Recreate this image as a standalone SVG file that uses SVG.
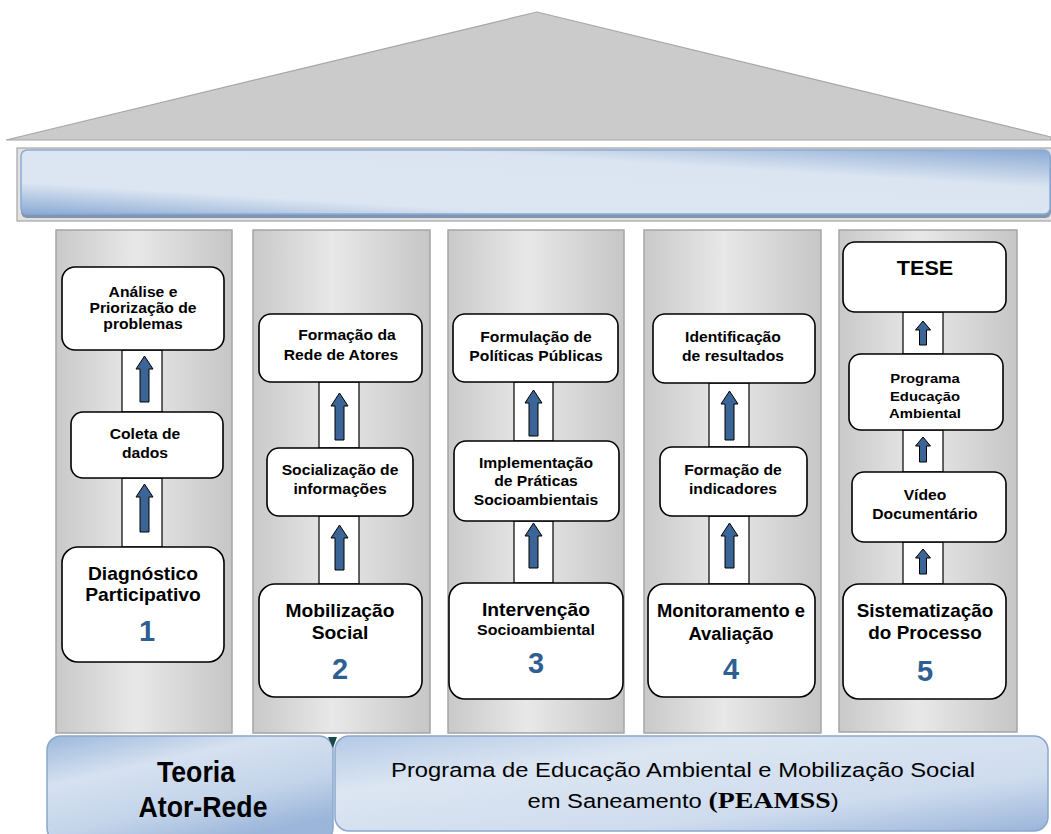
<svg xmlns="http://www.w3.org/2000/svg" width="1051" height="834" viewBox="0 0 1051 834">
<defs>
<linearGradient id="col" x1="0" y1="0" x2="1" y2="0">
<stop offset="0" stop-color="#c9c9c9"/><stop offset="0.45" stop-color="#e8e8e8"/><stop offset="1" stop-color="#c6c6c6"/>
</linearGradient>
<linearGradient id="banner" x1="0" y1="1" x2="1" y2="0">
<stop offset="0" stop-color="#8aa9d4"/><stop offset="0.25" stop-color="#dce6f2"/><stop offset="0.7" stop-color="#dbe5f1"/><stop offset="1" stop-color="#8aa9d4"/>
</linearGradient>
<linearGradient id="base" x1="0" y1="0" x2="0.6" y2="1">
<stop offset="0" stop-color="#9cb8dc"/><stop offset="0.35" stop-color="#d6e1f0"/><stop offset="0.7" stop-color="#c3d4ea"/><stop offset="1" stop-color="#9bb6da"/>
</linearGradient>
<linearGradient id="base2" x1="0" y1="0" x2="1" y2="1">
<stop offset="0" stop-color="#b4c9e6"/><stop offset="0.3" stop-color="#dce6f2"/><stop offset="0.7" stop-color="#cfdcee"/><stop offset="1" stop-color="#9ab5da"/>
</linearGradient>
</defs>
<style>
.col{fill:url(#col);stroke:#a5a5a5;stroke-width:1.5}
.box{fill:#fff;stroke:#000;stroke-width:1.6}
.link{fill:#fff;stroke:#000;stroke-width:1.2}
.arr{fill:#3a6596;stroke:#000;stroke-width:1}
text{font-family:"Liberation Sans",Arial,sans-serif;font-weight:bold;text-anchor:middle;fill:#000}
.s{font-size:14px}
.m{font-size:17.5px}
.n{font-size:29px;fill:#2f5f92}
</style>
<rect width="1051" height="834" fill="#fff"/>
<g id="roof">
<polygon points="6,140 537,12 1051,137 1051,140" fill="#cbcbcb" stroke="#a6a6a6" stroke-width="1.2"/>
</g>
<g id="banner-top">
<rect x="17" y="148" width="1040" height="73" fill="#e2e2e2" stroke="#a6a6a6" stroke-width="1.2"/>
<rect x="21" y="152" width="1030" height="66" rx="6" fill="#7f96b2"/>
<rect x="21" y="150" width="1029" height="64" rx="6" fill="url(#banner)" stroke="#8caad3" stroke-width="1.5"/>
</g>
<g id="columns">
<rect class="col" x="56" y="230" width="176" height="503"/>
<rect class="col" x="253" y="230" width="177" height="503"/>
<rect class="col" x="448" y="230" width="176" height="503"/>
<rect class="col" x="644" y="230" width="177" height="503"/>
<rect class="col" x="839" y="230" width="178" height="502"/>
</g>
<g id="connectors">
<rect class="link" x="122" y="350" width="40" height="62"/>
<rect class="link" x="122" y="478" width="40" height="69"/>
<rect class="link" x="319" y="382" width="40" height="66"/>
<rect class="link" x="319" y="516" width="40" height="68"/>
<rect class="link" x="514" y="382" width="39" height="59"/>
<rect class="link" x="514" y="521" width="39" height="62"/>
<rect class="link" x="709" y="383" width="40" height="64"/>
<rect class="link" x="709" y="516" width="40" height="68"/>
<rect class="link" x="903" y="312" width="40" height="42"/>
<rect class="link" x="903" y="430" width="40" height="42"/>
<rect class="link" x="903" y="542" width="40" height="42"/>
<path class="arr" d="M140,402 V369 H136 L144.5,356 L153,369 H149 V402 Z"/>
<path class="arr" d="M140,532 V497 H136 L144.5,484 L153,497 H149 V532 Z"/>
<path class="arr" d="M335,440 V406 H331 L339.5,393 L348,406 H344 V440 Z"/>
<path class="arr" d="M335,570 V538 H331 L339.5,525 L348,538 H344 V570 Z"/>
<path class="arr" d="M529,436 V403 H525 L533.5,390 L542,403 H538 V436 Z"/>
<path class="arr" d="M529,568 V536 H525 L533.5,523 L542,536 H538 V568 Z"/>
<path class="arr" d="M725,440 V404 H721 L729.5,391 L738,404 H734 V440 Z"/>
<path class="arr" d="M725,568 V536 H721 L729.5,523 L738,536 H734 V568 Z"/>
<path class="arr" d="M919.5,345 V330 H915.5 L923,321 L930.5,330 H926.5 V345 Z"/>
<path class="arr" d="M919.5,462 V446 H915.5 L923,437 L930.5,446 H926.5 V462 Z"/>
<path class="arr" d="M919.5,574 V558 H915.5 L923,549 L930.5,558 H926.5 V574 Z"/>
</g>
<g id="n1a"><rect class="box" x="62" y="267" width="162" height="83" rx="13"/>
<g transform="translate(143 0) scale(1.12 1)"><text class="s" x="0" y="297">Análise e</text><text class="s" x="0" y="313">Priorização de</text><text class="s" x="0" y="329">problemas</text></g></g>
<g id="n1b"><rect class="box" x="71" y="412" width="152" height="66" rx="12"/>
<g transform="translate(145 0) scale(1.12 1)"><text class="s" x="0" y="439">Coleta de</text><text class="s" x="0" y="458">dados</text></g></g>
<g id="n1c"><rect class="box" x="62" y="547" width="162" height="115" rx="16"/>
<g transform="translate(143 0) scale(1.1 1)"><text class="m" x="0" y="580">Diagnóstico</text><text class="m" x="0" y="601">Participativo</text></g><text class="n" x="147" y="641">1</text></g>

<g id="n2a"><rect class="box" x="259" y="314" width="163" height="68" rx="12"/>
<g transform="translate(347 0) scale(1.12 1)"><text class="s" x="0" y="340">Formação da</text></g><g transform="translate(341 0) scale(1.12 1)"><text class="s" x="0" y="360">Rede de Atores</text></g></g>
<g id="n2b"><rect class="box" x="267" y="448" width="146" height="68" rx="12"/>
<g transform="translate(340 0) scale(1.12 1)"><text class="s" x="0" y="475">Socialização de</text><text class="s" x="0" y="494">informações</text></g></g>
<g id="n2c"><rect class="box" x="259" y="584" width="163" height="113" rx="16"/>
<g transform="translate(340 0) scale(1.1 1)"><text class="m" x="0" y="617">Mobilização</text><text class="m" x="0" y="639">Social</text></g><text class="n" x="340" y="679">2</text></g>

<g id="n3a"><rect class="box" x="453" y="314" width="165" height="68" rx="12"/>
<g transform="translate(536 0) scale(1.12 1)"><text class="s" x="0" y="342">Formulação de</text><text class="s" x="0" y="361">Políticas Públicas</text></g></g>
<g id="n3b"><rect class="box" x="454" y="441" width="165" height="80" rx="12"/>
<g transform="translate(536 0) scale(1.12 1)"><text class="s" x="0" y="468">Implementação</text><text class="s" x="0" y="486">de Práticas</text><text class="s" x="0" y="505">Socioambientais</text></g></g>
<g id="n3c"><rect class="box" x="449" y="583" width="174" height="116" rx="16"/>
<g transform="translate(536 0) scale(1.1 1)"><text class="m" x="0" y="616">Intervenção</text><text x="0" y="635" style="font-size:14.5px">Socioambiental</text></g><text class="n" x="536" y="673">3</text></g>

<g id="n4a"><rect class="box" x="653" y="314" width="162" height="69" rx="12"/>
<g transform="translate(733 0) scale(1.12 1)"><text class="s" x="0" y="342">Identificação</text><text class="s" x="0" y="361">de resultados</text></g></g>
<g id="n4b"><rect class="box" x="660" y="447" width="147" height="69" rx="12"/>
<g transform="translate(733 0) scale(1.12 1)"><text class="s" x="0" y="475">Formação de</text><text class="s" x="0" y="494">indicadores</text></g></g>
<g id="n4c"><rect class="box" x="648" y="584" width="167" height="113" rx="16"/>
<g transform="translate(731 0) scale(1.05 1)"><text class="m" x="0" y="617">Monitoramento e</text><text class="m" x="0" y="640">Avaliação</text></g><text class="n" x="731" y="679">4</text></g>

<g id="n5a"><rect class="box" x="843" y="242" width="163" height="70" rx="12"/>
<g transform="translate(925 0) scale(1.08 1)"><text x="0" y="275" style="font-size:20px">TESE</text></g></g>
<g id="n5b"><rect class="box" x="849" y="354" width="154" height="76" rx="12"/>
<g transform="translate(925 0) scale(1.1 1)"><text x="0" y="383" style="font-size:13.5px">Programa</text><text x="0" y="401" style="font-size:13.5px">Educação</text><text x="0" y="418" style="font-size:13.5px">Ambiental</text></g></g>
<g id="n5c"><rect class="box" x="852" y="472" width="154" height="70" rx="12"/>
<g transform="translate(925 0) scale(1.12 1)"><text class="s" x="0" y="500">Vídeo</text><text class="s" x="0" y="519">Documentário</text></g></g>
<g id="n5d"><rect class="box" x="843" y="584" width="163" height="115" rx="16"/>
<g transform="translate(925 0) scale(1.08 1)"><text class="m" x="0" y="617">Sistematização</text><text class="m" x="0" y="639">do Processo</text></g><text class="n" x="925" y="681">5</text></g>

<g id="teoria">
<rect x="47" y="736" width="286" height="106" rx="14" fill="url(#base)" stroke="#8aa6cd" stroke-width="1.5"/>
<g transform="translate(196 0) scale(0.92 1)"><text x="0" y="782" style="font-size:29px">Teoria</text></g>
<g transform="translate(203 0) scale(0.92 1)"><text x="0" y="817" style="font-size:29px">Ator-Rede</text></g>
</g>
<g id="peamss">
<polygon points="328,737 337,737 333,748" fill="#1b4a4a"/>
<rect x="335" y="736" width="713" height="95" rx="14" fill="url(#base2)" stroke="#8aa6cd" stroke-width="1.5"/>
<g transform="translate(683 0) scale(1.16 1)"><text x="0" y="777" style="font-size:20.5px;font-weight:normal">Programa de Educação Ambiental e Mobilização Social</text>
<text x="0" y="808" style="font-size:20.5px;font-weight:normal">em Saneamento <tspan style="font-family:'Liberation Serif','Times New Roman',serif;font-weight:bold;font-size:24px">(PEAMSS</tspan>)</text></g>
</g>
</svg>
